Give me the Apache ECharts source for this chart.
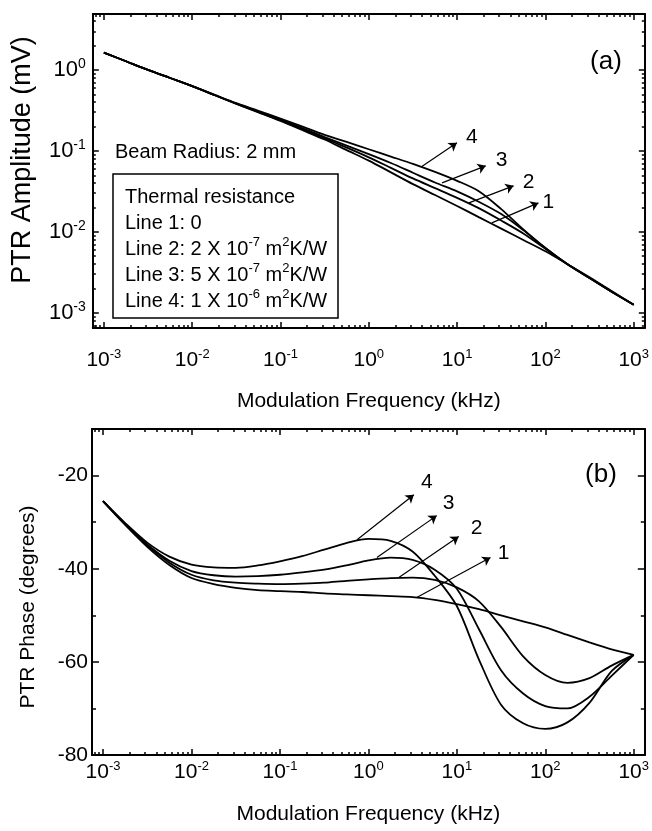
<!DOCTYPE html>
<html><head><meta charset="utf-8">
<script src="https://cdn.jsdelivr.net/npm/echarts@6/dist/echarts.min.js"></script>
<style>html,body{margin:0;padding:0;background:#fff}#c{width:652px;height:831px}</style>
</head><body><div id="c"></div>
<script>
// ---------------- data ----------------
const freq = [0.001, 0.00178, 0.00316, 0.00562, 0.01, 0.0178, 0.0316, 0.0562, 0.1, 0.178, 0.316, 0.562, 1,
  1.78, 3.16, 5.62, 10, 17.8, 31.6, 56.2, 100, 178, 316, 562, 1000];

const ampLine1 = [1.637, 1.279, 1.0, 0.794, 0.631, 0.490, 0.380, 0.2985, 0.234, 0.180, 0.138, 0.102, 0.0759,
  0.0543, 0.0389, 0.0285, 0.0209, 0.0151, 0.01096, 0.00794, 0.00575, 0.00398, 0.00275, 0.00186, 0.00126];
const ampLine2 = [1.637, 1.279, 1.0, 0.794, 0.631, 0.490, 0.382, 0.302, 0.239, 0.186, 0.143, 0.1096, 0.0832,
  0.0617, 0.0457, 0.0347, 0.0263, 0.0195, 0.0138, 0.00955, 0.00617, 0.00398, 0.00269, 0.00182, 0.00126];
const ampLine3 = [1.637, 1.279, 1.0, 0.794, 0.631, 0.490, 0.385, 0.305, 0.243, 0.1905, 0.148, 0.116, 0.0912,
  0.0708, 0.0537, 0.0407, 0.0316, 0.0234, 0.0166, 0.0105, 0.00631, 0.00398, 0.00269, 0.00182, 0.00126];
const ampLine4 = [1.637, 1.279, 1.0, 0.794, 0.631, 0.495, 0.389, 0.313, 0.251, 0.1995, 0.158, 0.129, 0.1047,
  0.0851, 0.0692, 0.0550, 0.0427, 0.0316, 0.0191, 0.0107, 0.00631, 0.00398, 0.00269, 0.00182, 0.00126];

const phaseLine1 = [-25.5, -30.6, -35.3, -39.2, -42.0, -43.3, -44.1, -44.6, -44.8, -45.0, -45.3, -45.5, -45.7,
  -45.9, -46.1, -46.7, -47.6, -48.7, -50.0, -51.3, -52.6, -54.2, -55.8, -57.3, -58.5];
const phaseLine2 = [-25.5, -30.5, -35.0, -38.7, -41.3, -42.5, -43.0, -43.2, -43.3, -43.2, -43.0, -42.6, -42.3,
  -42.0, -41.9, -42.4, -44.0, -47.0, -52.5, -58.8, -62.8, -64.5, -63.5, -60.8, -58.5];
const phaseLine3 = [-25.5, -30.4, -34.8, -38.3, -40.5, -41.4, -41.7, -41.6, -41.3, -40.8, -40.2, -39.3, -38.2,
  -37.6, -38.1, -40.2, -44.3, -53.0, -61.8, -66.8, -69.5, -70.0, -67.5, -63.0, -58.5];
const phaseLine4 = [-25.5, -30.2, -34.4, -37.4, -39.1, -39.7, -39.8, -39.3, -38.4, -37.3, -35.9, -34.5, -33.6,
  -34.0, -36.3, -41.5, -48.0, -59.5, -69.2, -73.2, -74.4, -73.0, -68.8, -62.0, -58.5];

const lineLabels = ['1', '2', '3', '4'];
// annotation arrows: [start, end] in data units, and numeral positions
const ampArrows = [
  [[24.7, 0.0129], [83.4, 0.0228]],
  [[13.6, 0.0228], [43.6, 0.037]],
  [[6.75, 0.0403], [21.1, 0.0653]],
  [[3.91, 0.0634], [9.96, 0.1256]]
];
const ampArrowText = [[108, 0.0234], [64.4, 0.0414], [31.9, 0.0774], [14.7, 0.149]];
const phaseArrows = [
  [[3.52, -46.2], [24.0, -37.6]],
  [[2.21, -41.9], [10.5, -33.1]],
  [[1.25, -37.6], [5.93, -28.6]],
  [[0.745, -33.8], [3.27, -24.1]]
];
const phaseArrowText = [[33.7, -36.6], [16.7, -31.4], [8.09, -26.0], [4.57, -21.5]];

const xMajorTicks = [0.001, 0.01, 0.1, 1, 10, 100, 1000];
const ampMajorTicks = [0.001, 0.01, 0.1, 1];
const phaseMajorTicks = [-80, -60, -40, -20];
const phaseMinorTicks = [-70, -50, -30];

// ---------------- styling ----------------
const FONT = '"Liberation Sans", Arial, Helvetica, sans-serif';
const X_MIN = 0.00075, X_MAX = 1335;
const AMP_MIN = 0.00065, AMP_MAX = 4.9;
const PH_MIN = -80, PH_MAX = -10;

function logMinor(lo, hi) {
  const out = [];
  for (let e = -5; e <= 4; e++) for (let m = 2; m <= 9; m++) {
    const v = +(m * Math.pow(10, e)).toPrecision(6);
    if (v >= lo && v <= hi) out.push(v);
  }
  return out;
}
const xMinor = logMinor(X_MIN, X_MAX);
const ampMinor = logMinor(AMP_MIN, AMP_MAX);

const RICH = {
  b: { fontSize: 21, fontFamily: FONT, color: '#000', lineHeight: 24 },
  s: { fontSize: 13, fontFamily: FONT, color: '#000', lineHeight: 14, verticalAlign: 'top' }
};
const RICH_Y = {
  b: { fontSize: 22, fontFamily: FONT, color: '#000', lineHeight: 25 },
  s: { fontSize: 14, fontFamily: FONT, color: '#000', lineHeight: 14, verticalAlign: 'top' }
};
function powLabel(v) {
  const e = Math.round(Math.log10(v));
  return '{b|10}{s|' + e + '}';
}
const BLACK = '#000';
const lineOn = { show: true, onZero: false, lineStyle: { color: BLACK, width: 2 } };
const majTick = (vals, len) => ({ show: true, inside: true, length: len, customValues: vals, lineStyle: { color: BLACK, width: 1.5 } });
const noLabel = { show: false };
const nameStyle = { fontSize: 21, fontFamily: FONT, color: BLACK, lineHeight: 24 };

function xAxesFor(gi, labelMargin, nameGap) {
  const base = { type: 'log', logBase: 10, gridIndex: gi, min: X_MIN, max: X_MAX,
    splitLine: { show: false }, minorTick: { show: false }, minorSplitLine: { show: false } };
  return [
    Object.assign({}, base, { position: 'bottom', axisLine: lineOn, axisTick: majTick(xMajorTicks, 6),
      axisLabel: { show: true, customValues: xMajorTicks, formatter: powLabel, rich: RICH, margin: labelMargin, color: BLACK },
      name: 'Modulation Frequency (kHz)', nameLocation: 'middle', nameGap: nameGap, nameTextStyle: nameStyle }),
    Object.assign({}, base, { position: 'bottom', axisLine: { show: false }, axisTick: majTick(xMinor, 3), axisLabel: noLabel }),
    Object.assign({}, base, { position: 'top', axisLine: lineOn, axisTick: majTick(xMajorTicks, 6), axisLabel: noLabel }),
    Object.assign({}, base, { position: 'top', axisLine: { show: false }, axisTick: majTick(xMinor, 3), axisLabel: noLabel })
  ];
}

const ampBase = { type: 'log', logBase: 10, gridIndex: 0, min: AMP_MIN, max: AMP_MAX,
  splitLine: { show: false }, minorTick: { show: false } };
const phBase = { type: 'value', gridIndex: 1, min: PH_MIN, max: PH_MAX,
  splitLine: { show: false }, minorTick: { show: false } };

const yAxes = [
  Object.assign({}, ampBase, { position: 'left', axisLine: lineOn, axisTick: majTick(ampMajorTicks, 6),
    axisLabel: { show: true, customValues: ampMajorTicks, formatter: powLabel, rich: RICH_Y, margin: 7, color: BLACK },
    name: 'PTR Amplitude (mV)', nameLocation: 'middle', nameGap: 51,
    nameTextStyle: { fontSize: 27, fontFamily: FONT, color: BLACK, lineHeight: 30, padding: [0, 0, 0, 22] } }),
  Object.assign({}, ampBase, { position: 'left', axisLine: { show: false }, axisTick: majTick(ampMinor, 3), axisLabel: noLabel }),
  Object.assign({}, ampBase, { position: 'right', axisLine: lineOn, axisTick: majTick(ampMajorTicks, 6), axisLabel: noLabel }),
  Object.assign({}, ampBase, { position: 'right', axisLine: { show: false }, axisTick: majTick(ampMinor, 3), axisLabel: noLabel }),

  Object.assign({}, phBase, { position: 'left', axisLine: lineOn, axisTick: majTick(phaseMajorTicks, 7),
    axisLabel: { show: true, customValues: phaseMajorTicks, margin: 4, color: BLACK, fontSize: 21, fontFamily: FONT },
    name: 'PTR Phase (degrees)', nameLocation: 'middle', nameGap: 52,
    nameTextStyle: Object.assign({}, nameStyle, { padding: [0, 30, 0, 0] }) }),
  Object.assign({}, phBase, { position: 'left', axisLine: { show: false }, axisTick: majTick(phaseMinorTicks, 4), axisLabel: noLabel }),
  Object.assign({}, phBase, { position: 'right', axisLine: lineOn, axisTick: majTick(phaseMajorTicks, 7), axisLabel: noLabel }),
  Object.assign({}, phBase, { position: 'right', axisLine: { show: false }, axisTick: majTick(phaseMinorTicks, 4), axisLabel: noLabel })
];

function curve(name, ys, xi, yi, arrow, textPos, text) {
  return {
    type: 'line', name: name, xAxisIndex: xi, yAxisIndex: yi,
    data: freq.map((f, i) => [f, ys[i]]),
    showSymbol: false, symbol: 'none', smooth: 0.3, silent: true,
    lineStyle: { color: BLACK, width: 1.8 },
    markLine: {
      silent: true, symbol: ['none', 'arrow'], symbolSize: 8, animation: false,
      lineStyle: { color: BLACK, width: 1.2, type: 'solid' }, label: { show: false },
      data: [[{ coord: arrow[0] }, { coord: arrow[1] }]]
    },
    markPoint: {
      silent: true, symbol: 'circle', symbolSize: 0, animation: false,
      label: { show: true, position: 'inside', formatter: text, color: BLACK, fontSize: 21, fontFamily: FONT },
      data: [{ coord: textPos }]
    }
  };
}

const ampSeries = [ampLine1, ampLine2, ampLine3, ampLine4];
const phSeries = [phaseLine1, phaseLine2, phaseLine3, phaseLine4];
const series = [];
ampSeries.forEach((ys, k) => series.push(curve('Amp ' + lineLabels[k], ys, 0, 0, ampArrows[k], ampArrowText[k], lineLabels[k])));
phSeries.forEach((ys, k) => series.push(curve('Phase ' + lineLabels[k], ys, 4, 4, phaseArrows[k], phaseArrowText[k], lineLabels[k])));

const legendRich = {
  n: { fontSize: 20, fontFamily: FONT, fill: BLACK, color: BLACK, lineHeight: 26 },
  s: { fontSize: 13, fontFamily: FONT, fill: BLACK, color: BLACK, lineHeight: 14, verticalAlign: 'top' }
};
const legendText = [
  '{n|Thermal resistance}',
  '{n|Line 1: 0}',
  '{n|Line 2: 2 X 10}{s|-7}{n| m}{s|2}{n|K/W}',
  '{n|Line 3: 5 X 10}{s|-7}{n| m}{s|2}{n|K/W}',
  '{n|Line 4: 1 X 10}{s|-6}{n| m}{s|2}{n|K/W}'
].join('\n');

const chart = echarts.init(document.getElementById('c'), null, { renderer: 'canvas' });
chart.setOption({
  animation: false,
  backgroundColor: '#fff',
  textStyle: { fontFamily: FONT, color: BLACK },
  grid: [
    { left: 92, top: 14, width: 555, height: 314 },
    { left: 92, top: 429, width: 555, height: 326 }
  ],
  xAxis: xAxesFor(0, 20, 61).concat(xAxesFor(1, 5, 47)),
  yAxis: yAxes,
  series: series,
  graphic: [
    { type: 'text', x: 606, y: 62, style: { text: '(a)', fontSize: 26, fontFamily: FONT, fill: BLACK, align: 'center', verticalAlign: 'middle' } },
    { type: 'text', x: 601, y: 475, style: { text: '(b)', fontSize: 26, fontFamily: FONT, fill: BLACK, align: 'center', verticalAlign: 'middle' } },
    { type: 'text', x: 115, y: 152, style: { text: 'Beam Radius: 2 mm', fontSize: 20, fontFamily: FONT, fill: BLACK, align: 'left', verticalAlign: 'middle' } },
    { type: 'rect', shape: { x: 113, y: 174, width: 225, height: 144 }, style: { fill: '#fff', stroke: BLACK, lineWidth: 1.5 }, z: 10 },
    { type: 'text', x: 125, y: 184, z: 11, style: { text: legendText, rich: legendRich, fontSize: 20, fontFamily: FONT, fill: BLACK, lineHeight: 26, align: 'left', verticalAlign: 'top' } }
  ]
});
</script>
</body></html>
